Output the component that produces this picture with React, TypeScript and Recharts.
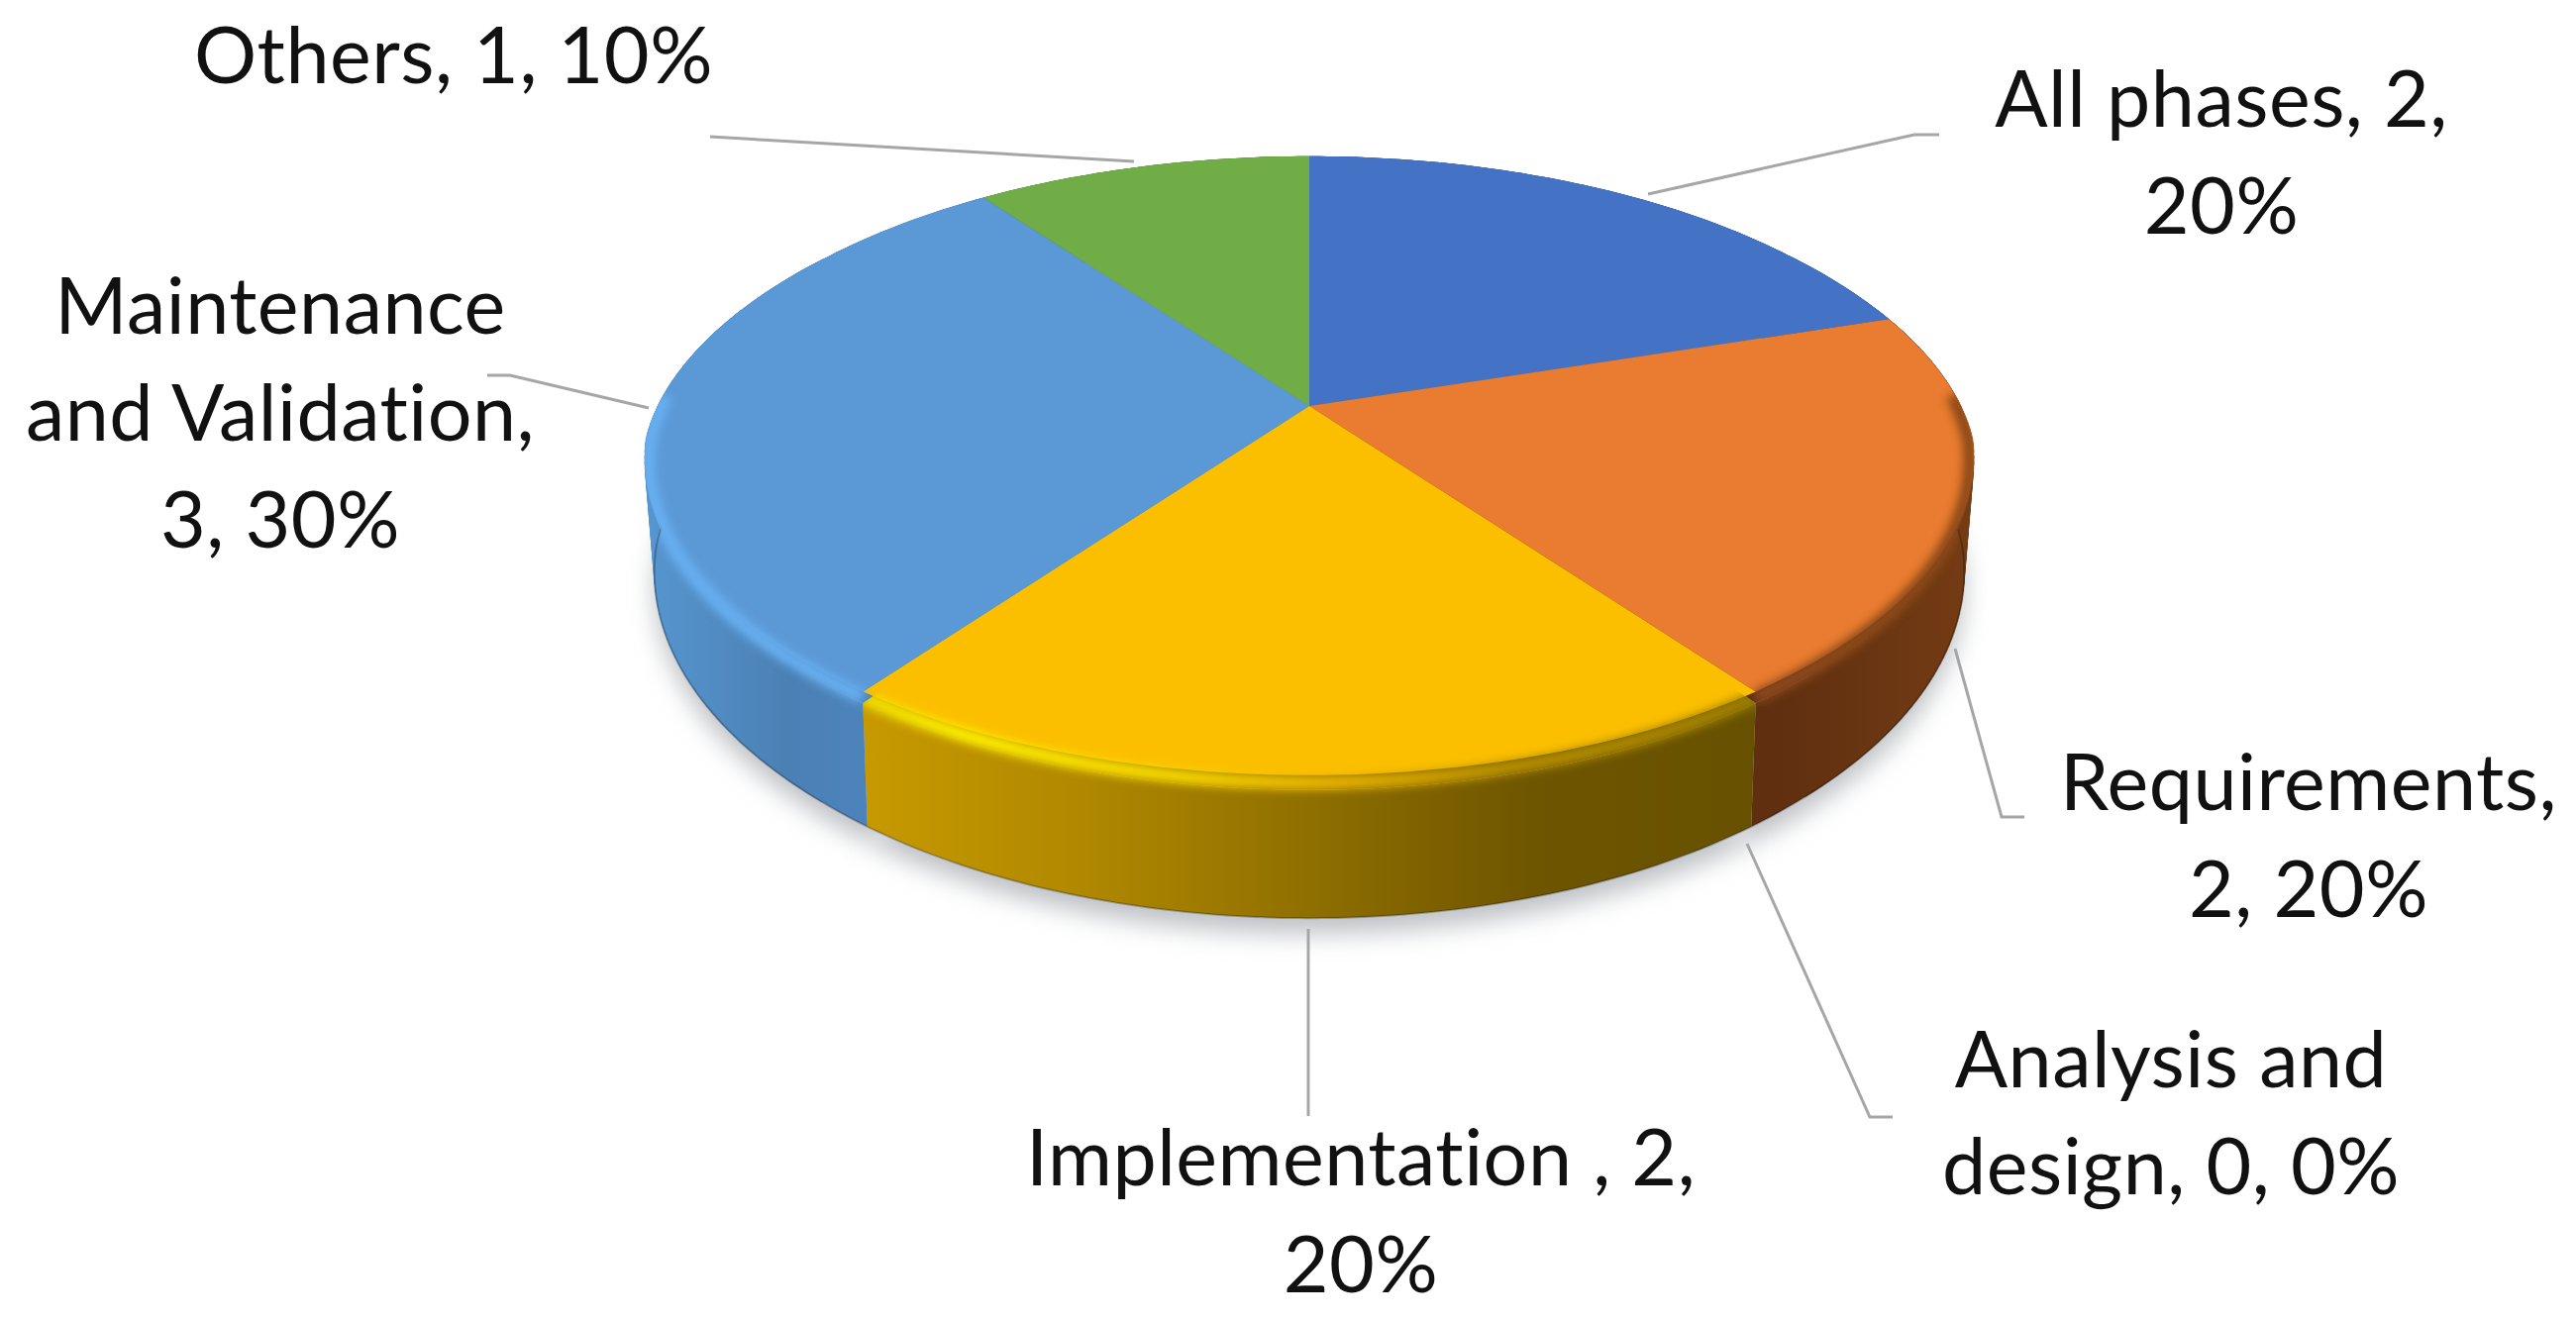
import React from 'react';
import { PieChart, Pie } from 'recharts';

const phases = ['All phases', 'Requirements', 'Analysis and design', 'Implementation', 'Maintenance and Validation', 'Others'];
const counts = [2, 2, 0, 2, 3, 1];
const labelLines = [
  ['All phases, 2,', '20%'],
  ['Requirements,', '2, 20%'],
  ['Analysis and', 'design, 0, 0%'],
  ['Implementation , 2,', '20%'],
  ['Maintenance', 'and Validation,', '3, 30%'],
  ['Others, 1, 10%'],
];

// first baseline and centre of each label, in page pixels
const labelAnchors = [
  [2243, 128],
  [2331, 818],
  [2192, 1098],
  [1374, 1197],
  [283, 337],
  [458, 84],
];
const leaders = [
  [[1664, 196], [1933, 136], [1958, 136]],
  [[1974, 655], [2021, 825], [2044, 825]],
  [[1764, 852], [1888, 1128], [1911, 1128]],
  [[1321, 938], [1321, 1127]],
  [[655, 412], [515, 379], [492, 379]],
  [[1145, 163], [717, 138]],
];

const topColors = ['#4472c4', '#e97c30', '#a5a5a5', '#fbbf00', '#5b98d6', '#70ad47'];
const wallStops = [
  [['0', '#2f5597'], ['1', '#2f5597']],
  [['0', '#5f2f10'], ['0.85', '#5f2f10'], ['1', '#743c14']],
  [['0', '#777777'], ['1', '#777777']],
  [['0.16', '#c89a00'], ['0.33', '#b08800'], ['0.5', '#8f6f00'], ['0.67', '#6e5500'], ['0.84', '#675100']],
  [['0', '#5796d0'], ['0.11', '#4a80b4'], ['0.16', '#4c83ba']],
  [['0', '#4f7a32'], ['1', '#4f7a32']],
];
const rimStops = [
  [['0', '#2f5597'], ['1', '#2f5597']],
  [['0', '#a35520'], ['1', '#8a4719']],
  [['0', '#777777'], ['1', '#777777']],
  [['0.16', '#f0dc00'], ['0.24', '#fff000'], ['0.4', '#f7d800'], ['0.52', '#eab400'], ['0.65', '#b89000'], ['0.84', '#a08000']],
  [['0', '#68b0f2'], ['1', '#6ab2f4']],
  [['0', '#5f9a3a'], ['1', '#5f9a3a']],
];

const WIDTH = 2601;
const HEIGHT = 1335;
const CX = 1322;
const CY = 410;
const RADIUS = 647;
const PERSPECTIVE = 0.193;
const TILT = 0.465;

const chartData = phases.map((name, i) => ({ name, value: counts[i] }));

// 1 around the left and right edges of the pie, 0 towards front and back
const sideBump = (far: number) => Math.max(0, 1 - Math.abs(far + 0.1) / 0.65);

// circle point -> screen offset, keeps the far side of the pie shorter than the near side
const project = (deg: number, r: number) => {
  const a = (deg * Math.PI) / 180;
  const far = Math.sin(a);
  const w = 1 + PERSPECTIVE * far;
  return { x: ((r * Math.cos(a)) / w) * (1 + 0.02 * sideBump(far)), y: (-r * TILT * far) / w, far };
};

const arc = (start: number, end: number) => {
  const pts: number[] = [];
  const steps = Math.max(1, Math.ceil(Math.abs(end - start)));
  for (let i = 0; i <= steps; i++) pts.push(start + ((end - start) * i) / steps);
  return pts;
};

const outerPoint = (deg: number, r: number) => {
  const p = project(deg, r);
  return { x: p.x, y: p.far < 0 ? p.y * 1.04 : p.y };
};

const bottomPoint = (deg: number, r: number) => {
  const p = project(deg, r);
  return { x: p.x * (0.99 - 0.005 * sideBump(p.far)), y: p.y * 1.095 + 109 };
};

const toPath = (pts: { x: number; y: number }[], cx: number, cy: number) =>
  pts.map((p, i) => `${i ? 'L' : 'M'}${(cx + p.x).toFixed(1)} ${(cy + p.y).toFixed(1)}`).join(' ');

const ShadowShape = (props: any) => {
  const { cx, cy, outerRadius, startAngle, endAngle } = props;
  if (startAngle === endAngle) return <g />;
  const rim = arc(startAngle, endAngle).map((d) => bottomPoint(d, outerRadius));
  const bottomCentre = { x: 0, y: 109 };
  return (
    <path
      d={`${toPath([bottomCentre, ...rim], cx, cy + 16)} Z`}
      fill="#bfc2c6"
      filter="url(#pieShadow)"
    />
  );
};

const WallShape = (props: any) => {
  const { cx, cy, outerRadius, startAngle, endAngle, index } = props;
  if (startAngle === endAngle) return <g />;
  const angles = arc(startAngle, endAngle);
  const top = angles.map((d) => outerPoint(d, outerRadius));
  const bottom = angles.map((d) => bottomPoint(d, outerRadius));
  return (
    <g>
      {/* quads only at the sides, they close the silhouette where the two rims part */}
      {angles.slice(1).map((d, n) =>
        sideBump(project(d, outerRadius).far) > 0 ? (
          <path
            key={d}
            d={`${toPath([top[n], top[n + 1], bottom[n + 1], bottom[n]], cx, cy)} Z`}
            fill={`url(#wall${index})`}
            stroke={`url(#wall${index})`}
            strokeWidth={0.6}
          />
        ) : null
      )}
      <path d={`${toPath([{ x: 0, y: 0 }, ...top], cx, cy)} Z`} fill={`url(#wall${index})`} />
      <path d={`${toPath([...top, ...[...bottom].reverse()], cx, cy)} Z`} fill={`url(#wall${index})`} />
      <path d={toPath(bottom, cx, cy)} fill="none" stroke="#000000" strokeOpacity={0.25} strokeWidth={2} />
    </g>
  );
};

const TopShape = (props: any) => {
  const { cx, cy, outerRadius, startAngle, endAngle, index } = props;
  if (startAngle === endAngle) return <g />;
  const angles = arc(startAngle, endAngle);
  const flat = angles.map((d) => project(d, outerRadius));
  const outer = angles.map((d) => outerPoint(d, outerRadius));
  const bottom = angles.map((d) => bottomPoint(d, outerRadius)).reverse();
  const rim = angles
    .map((d) => {
      const f = project(d, outerRadius);
      const o = outerPoint(d, outerRadius);
      return { x: (f.x + o.x) / 2, y: (f.y + o.y) / 2, far: f.far };
    })
    .map((p) => ({ x: p.x * (1 - 0.006 * sideBump(p.far)), y: p.y, far: p.far }))
    .filter((p) => p.far < 0.05);
  return (
    <g>
      <clipPath id={`sliceClip${index}`}>
        <path d={`${toPath([{ x: 0, y: 0 }, ...outer], cx, cy)} Z`} />
        <path d={`${toPath([...outer, ...bottom], cx, cy)} Z`} />
      </clipPath>
      <path d={`${toPath([{ x: 0, y: 0 }, ...flat], cx, cy)} Z`} fill={topColors[index]} />
      {rim.length > 1 && (
        <g clipPath={`url(#sliceClip${index})`}>
          <path
            d={toPath(rim, cx, cy)}
            fill="none"
            stroke={`url(#rim${index})`}
            strokeWidth={14}
            filter="url(#rimBlur)"
          />
        </g>
      )}
    </g>
  );
};

const renderLabel = (props: any) => {
  const i = props.index;
  const [x, y] = labelAnchors[i];
  return (
    <text
      key={i}
      x={x}
      y={y}
      textAnchor="middle"
      fontFamily="Lato"
      fontSize={79}
      letterSpacing={0.5}
      fill="#111111"
      style={{ fontVariantLigatures: 'none' }}
    >
      {labelLines[i].map((line, n) => (
        <tspan key={n} x={x} y={y + n * 108}>
          {line}
        </tspan>
      ))}
    </text>
  );
};

const renderLeader = (props: any) => (
  <polyline
    key={props.index}
    points={leaders[props.index].map((p) => p.join(',')).join(' ')}
    fill="none"
    stroke="#a6a6a6"
    strokeWidth={3}
  />
);

const gradient = (id: string, stops: string[][]) => (
  <linearGradient key={id} id={id} gradientUnits="userSpaceOnUse" x1={649} x2={1994} y1={0} y2={0}>
    {stops.map(([offset, color]) => (
      <stop key={offset} offset={offset} stopColor={color} />
    ))}
  </linearGradient>
);

export default function App() {
  return (
    <div style={{ position: 'absolute', left: 0, top: 0, width: WIDTH, height: HEIGHT, background: '#ffffff' }}>
      <PieChart width={WIDTH} height={HEIGHT} margin={{ top: 0, right: 0, bottom: 0, left: 0 }}>
        <defs>
          {wallStops.map((stops, i) => gradient(`wall${i}`, stops))}
          {rimStops.map((stops, i) => gradient(`rim${i}`, stops))}
          <filter id="pieShadow" filterUnits="userSpaceOnUse" x={0} y={0} width={WIDTH} height={HEIGHT}>
            <feGaussianBlur stdDeviation={12} />
          </filter>
          <filter id="rimBlur" filterUnits="userSpaceOnUse" x={0} y={0} width={WIDTH} height={HEIGHT}>
            <feGaussianBlur stdDeviation={5} />
          </filter>
        </defs>
        <Pie
          data={chartData}
          dataKey="value"
          cx={CX}
          cy={CY}
          outerRadius={RADIUS}
          startAngle={90}
          endAngle={-270}
          stroke="none"
          shape={ShadowShape}
          isAnimationActive={false}
        />
        <Pie
          data={chartData}
          dataKey="value"
          cx={CX}
          cy={CY}
          outerRadius={RADIUS}
          startAngle={90}
          endAngle={-270}
          stroke="none"
          shape={WallShape}
          isAnimationActive={false}
        />
        <Pie
          data={chartData}
          dataKey="value"
          cx={CX}
          cy={CY}
          outerRadius={RADIUS}
          startAngle={90}
          endAngle={-270}
          stroke="none"
          shape={TopShape}
          label={renderLabel}
          labelLine={renderLeader}
          isAnimationActive={false}
        />
      </PieChart>
    </div>
  );
}
